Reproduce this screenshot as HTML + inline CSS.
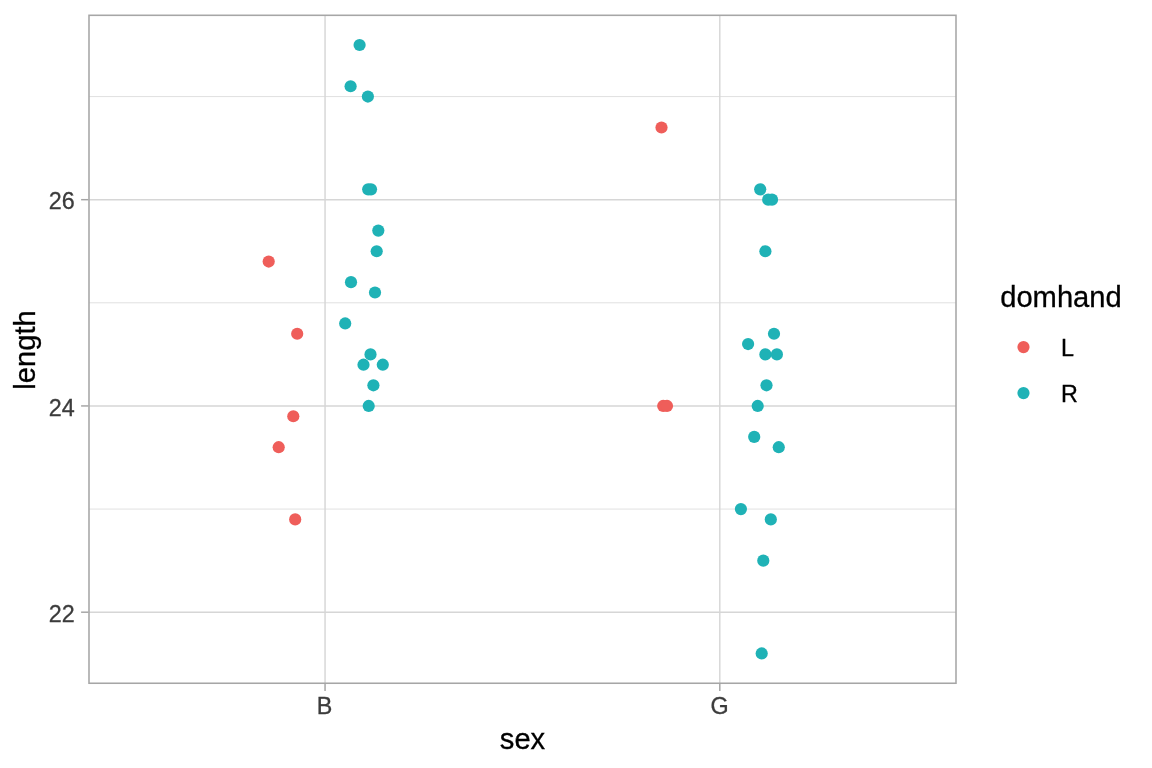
<!DOCTYPE html>
<html lang="en"><head><meta charset="utf-8"><title>length by sex</title>
<style>
html,body{margin:0;padding:0;background:#fff;}
body{width:1152px;height:768px;overflow:hidden;}
svg{display:block;}
text{font-family:"Liberation Sans",Arial,Helvetica,sans-serif;}
.tick{font-size:23.33px;fill:#3C3C3C;stroke:#3C3C3C;stroke-width:0.3px;}
.title{font-size:29.17px;fill:#000;stroke:#000;stroke-width:0.3px;}
.leg{font-size:23.33px;fill:#000;stroke:#000;stroke-width:0.3px;}
</style></head><body>
<svg width="1152" height="768" viewBox="0 0 1152 768">
<rect x="0" y="0" width="1152" height="768" fill="#ffffff"/>

<g stroke="#D6D6D6" stroke-width="0.73" fill="none">
<line x1="89.0" x2="956.0" y1="96.55" y2="96.55"/>
<line x1="89.0" x2="956.0" y1="302.81" y2="302.81"/>
<line x1="89.0" x2="956.0" y1="509.07" y2="509.07"/>
</g>
<g stroke="#D6D6D6" stroke-width="1.45" fill="none">
<line x1="89.0" x2="956.0" y1="199.68" y2="199.68"/>
<line x1="89.0" x2="956.0" y1="405.94" y2="405.94"/>
<line x1="89.0" x2="956.0" y1="612.20" y2="612.20"/>
<line x1="325.05" x2="325.05" y1="15.3" y2="683.25"/>
<line x1="719.8" x2="719.8" y1="15.3" y2="683.25"/>
</g>
<g fill="#1FB2B6">
<circle cx="359.60" cy="44.99" r="6.1"/>
<circle cx="350.60" cy="86.24" r="6.1"/>
<circle cx="367.90" cy="96.55" r="6.1"/>
<circle cx="368.20" cy="189.37" r="6.1"/>
<circle cx="371.00" cy="189.37" r="6.1"/>
<circle cx="378.30" cy="230.62" r="6.1"/>
<circle cx="376.70" cy="251.25" r="6.1"/>
<circle cx="351.00" cy="282.18" r="6.1"/>
<circle cx="375.00" cy="292.50" r="6.1"/>
<circle cx="345.20" cy="323.44" r="6.1"/>
<circle cx="370.50" cy="354.38" r="6.1"/>
<circle cx="363.50" cy="364.69" r="6.1"/>
<circle cx="382.80" cy="364.69" r="6.1"/>
<circle cx="373.40" cy="385.31" r="6.1"/>
<circle cx="368.70" cy="405.94" r="6.1"/>
<circle cx="760.20" cy="189.37" r="6.1"/>
<circle cx="768.20" cy="199.68" r="6.1"/>
<circle cx="772.00" cy="199.68" r="6.1"/>
<circle cx="765.40" cy="251.25" r="6.1"/>
<circle cx="774.00" cy="333.75" r="6.1"/>
<circle cx="748.10" cy="344.06" r="6.1"/>
<circle cx="765.40" cy="354.38" r="6.1"/>
<circle cx="776.90" cy="354.38" r="6.1"/>
<circle cx="766.50" cy="385.31" r="6.1"/>
<circle cx="757.70" cy="405.94" r="6.1"/>
<circle cx="754.20" cy="436.88" r="6.1"/>
<circle cx="778.75" cy="447.19" r="6.1"/>
<circle cx="740.90" cy="509.07" r="6.1"/>
<circle cx="770.80" cy="519.38" r="6.1"/>
<circle cx="763.30" cy="560.63" r="6.1"/>
<circle cx="761.70" cy="653.45" r="6.1"/>
</g>
<g fill="#EF5E5A">
<circle cx="268.70" cy="261.56" r="6.1"/>
<circle cx="297.20" cy="333.75" r="6.1"/>
<circle cx="293.30" cy="416.25" r="6.1"/>
<circle cx="278.70" cy="447.19" r="6.1"/>
<circle cx="295.20" cy="519.38" r="6.1"/>
<circle cx="661.50" cy="127.49" r="6.1"/>
<circle cx="663.20" cy="405.94" r="6.1"/>
<circle cx="667.00" cy="405.94" r="6.1"/>
</g>
<rect x="89.0" y="15.3" width="867.00" height="667.95" fill="none" stroke="#A6A6A6" stroke-width="1.55"/>
<g stroke="#A4A4A4" stroke-width="1.45" fill="none">
<line x1="81.10" x2="88.50" y1="199.68" y2="199.68"/>
<line x1="81.10" x2="88.50" y1="405.94" y2="405.94"/>
<line x1="81.10" x2="88.50" y1="612.20" y2="612.20"/>
<line x1="325.05" x2="325.05" y1="683.75" y2="691.10"/>
<line x1="719.8" x2="719.8" y1="683.75" y2="691.10"/>
</g>
<text class="tick" x="74.75" y="209.38" text-anchor="end">26</text>
<text class="tick" x="74.75" y="415.64" text-anchor="end">24</text>
<text class="tick" x="74.75" y="621.90" text-anchor="end">22</text>
<text class="tick" x="324.60" y="714.2" text-anchor="middle">B</text>
<text class="tick" x="719.70" y="714.2" text-anchor="middle">G</text>
<text class="title" x="522.5" y="748.5" text-anchor="middle">sex</text>
<text class="title" transform="translate(35.35,350.0) rotate(-90)" text-anchor="middle">length</text>
<text class="title" x="1000.2" y="306.9">domhand</text>
<circle cx="1023.5" cy="347.1" r="6.1" fill="#EF5E5A"/>
<circle cx="1023.5" cy="393.1" r="6.1" fill="#1FB2B6"/>
<text class="leg" x="1060.9" y="355.8">L</text>
<text class="leg" x="1060.9" y="401.8">R</text>
</svg></body></html>
